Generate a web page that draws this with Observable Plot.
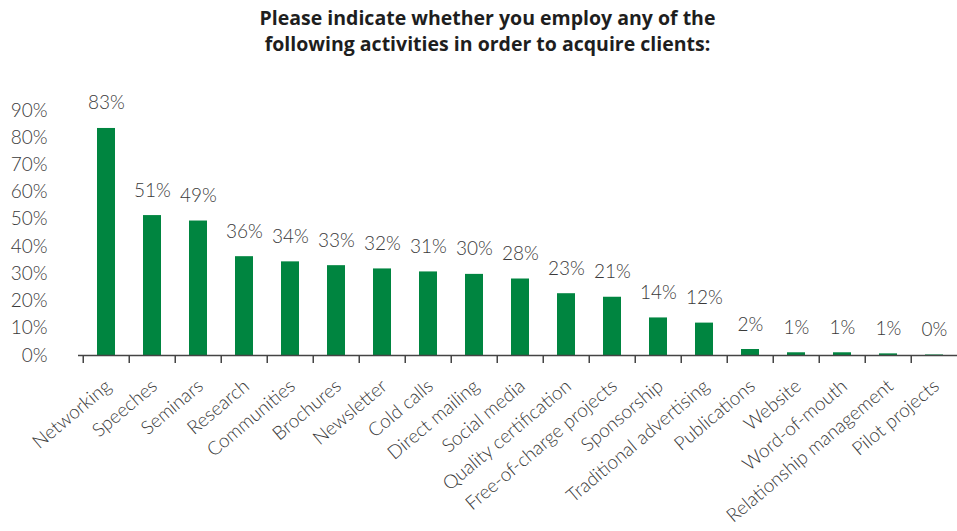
<!DOCTYPE html>
<html>
<head>
<meta charset="utf-8">
<script src="https://cdn.jsdelivr.net/npm/d3@7"></script>
<script src="https://cdn.jsdelivr.net/npm/@observablehq/plot@0.6"></script>
<style>
  body { margin: 0; background: #fff; width: 957px; height: 531px; overflow: hidden; }
  #title { height: 62px; box-sizing: border-box; padding-top: 5px; text-align: center;
    font-family: "Open Sans", Lato, sans-serif; font-weight: 700; font-size: 19.5px; line-height: 26px; color: #1e1e1e; padding-left: 18px; }
  #chart svg { overflow: visible; display: block; }
</style>
</head>
<body>
<div id="title">Please indicate whether you employ any of the<br>following activities in order to acquire clients:</div>
<div id="chart"></div>
<script>
const activities = ["Networking", "Speeches", "Seminars", "Research", "Communities", "Brochures", "Newsletter", "Cold calls", "Direct mailing", "Social media", "Quality certification", "Free-of-charge projects", "Sponsorship", "Traditional advertising", "Publications", "Website", "Word-of-mouth", "Relationship management", "Pilot projects"];
const shares = [83.4, 51.4, 49.4, 36.3, 34.4, 33.0, 31.8, 30.7, 29.8, 28.1, 22.7, 21.4, 13.8, 11.9, 2.2, 1.0, 1.0, 0.6, 0.2];
const yTicks = [0, 10, 20, 30, 40, 50, 60, 70, 80, 90];

const data = activities.map((a, i) => ({activity: a, share: shares[i]}));

const W = 957, H = 469, mL = 78, mR = -5;
const step = (W - mR - mL) / activities.length;
const font = "Lato, 'Open Sans', sans-serif";
const green = "#008540";
const grey = "#3a3a3a";

const chart = Plot.plot({
  width: W,
  height: H,
  marginLeft: mL,
  marginRight: mR,
  marginTop: 48,
  marginBottom: 176,
  style: {fontFamily: font, fontSize: "18px", color: grey, background: "transparent", overflow: "visible"},
  x: {domain: activities, paddingInner: 0.6, paddingOuter: 0.3, label: null},
  y: {domain: [0, 90], label: null},
  marks: [
    Plot.axisY(yTicks, {tickSize: 0, tickPadding: 31, tickFormat: d => d + "%", fontSize: 19, fontWeight: 300, label: null}),
    Plot.axisX({tickSize: 0, tickPadding: 28, tickRotate: -40, dx: 2, fontSize: 19, fontWeight: 300, label: null}),
    Plot.barY(data, {x: "activity", y: "share", fill: green}),
    Plot.ruleY([0], {stroke: "#444", strokeWidth: 1.5}),
    Plot.ruleX(activities, {x: d => d, y1: 0, y2: -2.9, dx: -step / 2, stroke: "#444", strokeWidth: 1.5}),
    Plot.text(data, {x: "activity", y: "share", text: d => Math.round(d.share) + "%", lineAnchor: "bottom", dy: -19, fontSize: 19, fontWeight: 300, fill: grey})
  ]
});
document.getElementById("chart").appendChild(chart);
</script>
</body>
</html>
